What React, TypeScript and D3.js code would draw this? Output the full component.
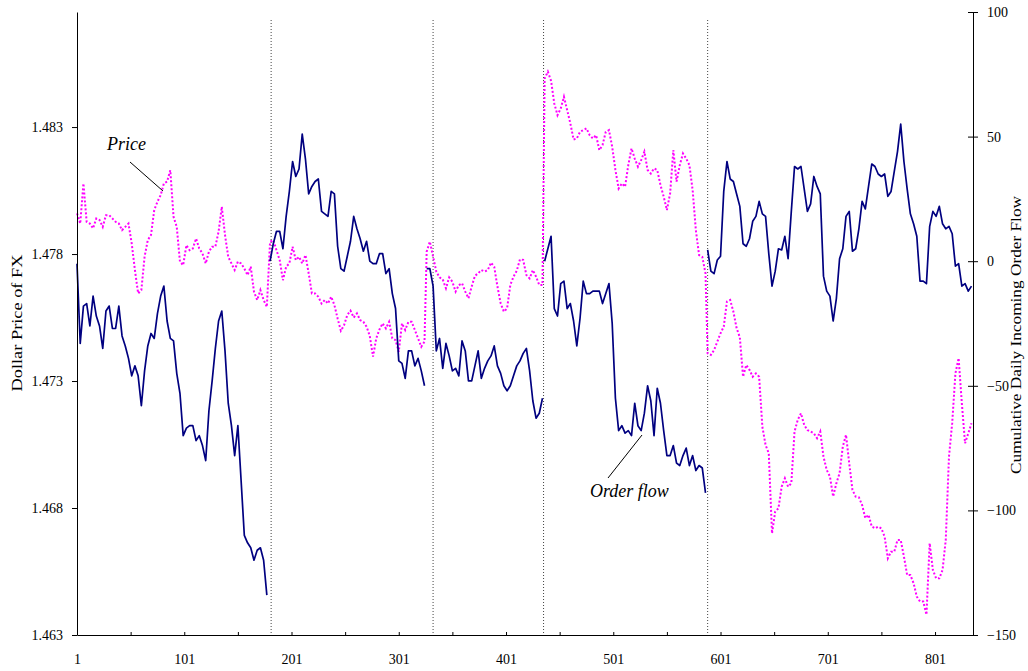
import React, { useEffect, useRef } from 'react'
import * as d3 from 'd3'

const W = 1028
const H = 671
const STEP = 3 // days between stored readings

// first day of each trading period (order flow restarts at zero)
const periodStart = [1, 181, 327, 437, 589]
// dotted period dividers
const breakDays = [182, 333, 436, 589]

// cumulative daily incoming order flow, one array per period
const flow1 = [-1, -33, -18, -17, -26, -14, -22, -26, -35, -20,
  -18, -27, -27, -18, -30, -34, -39, -46, -42, -46,
  -58, -44, -34, -29, -31, -21, -14, -10, -24, -31,
  -32, -45, -53, -70, -67, -66, -66, -72, -70, -74,
  -80, -60, -48, -35, -24, -20, -36, -57, -66, -78,
  -66, -88, -110, -113, -115, -120, -116, -115, -120, -134]
const flow2 = [0, 7, 12, 12, 5, 18, 28, 40, 34, 37,
  51, 41, 27, 30, 32, 33, 20, 19, 18, 28,
  27, 6, -3, -4, 2, 8, 18, 13, 9, 4,
  8, 0, -1, -1, 3, 3, -5, -3, -13, -19,
  -40, -41, -47, -36, -36, -42, -39, -44, -50]
const flow3 = [-3, -3, -10, -36, -31, -43, -33, -38, -44, -43,
  -46, -32, -36, -48, -48, -42, -36, -47, -43, -40,
  -38, -34, -42, -45, -50, -52, -50, -46, -42, -40,
  -37, -35, -44, -56, -63, -61, -55]
const flow4 = [0, 5, 10, -19, -22, -9, -8, -19, -17, -24,
  -34, -23, -8, -13, -13, -12, -12, -12, -17, -13,
  -9, -25, -55, -68, -66, -69, -68, -70, -57, -66,
  -68, -61, -50, -56, -70, -51, -57, -68, -78, -78,
  -74, -81, -82, -78, -75, -82, -78, -84, -82, -83, -93]
const flow5 = [4.5, -4, -5, 0.5, 2, 28, 40, 33, 32, 27,
  22, 7, 6, 9, 16, 18, 24, 19, 18, 3,
  -10, -4, 5, 4.5, 10, 1, 20, 38, 37, 38,
  29, 20, 23, 34, 30, 27, -6, -12, -14, -24,
  -15, 1, 5, 18, 20, 4, 5, 13, 24, 21,
  30, 39, 38, 35, 34, 35, 26, 28, 36, 44,
  55, 40, 29, 19, 15, 10, -8, -8, -9, 14,
  20, 18, 22, 15, 13, 14, 11, -2, -1, -10,
  -9, -12, -10]

// dollar price of FX, same periods
const price1 = [1.47960, 1.47920, 1.48078, 1.47927, 1.47920, 1.47901, 1.47940, 1.47934, 1.47907, 1.47953,
  1.47953, 1.47940, 1.47927, 1.47920, 1.47894, 1.47907, 1.47920, 1.47842, 1.47737, 1.47645,
  1.47658, 1.47789, 1.47855, 1.47875, 1.47973, 1.48006, 1.48032, 1.48078, 1.48085, 1.48130,
  1.47947, 1.47907, 1.47770, 1.47756, 1.47835, 1.47815, 1.47822, 1.47861, 1.47822, 1.47802,
  1.47763, 1.47809, 1.47829, 1.47829, 1.47888, 1.47986, 1.47875, 1.47789, 1.47763, 1.47737,
  1.47770, 1.47763, 1.47743, 1.47717, 1.47750, 1.47652, 1.47619, 1.47658, 1.47619, 1.47592]
const price2 = [1.47848, 1.47855, 1.47815, 1.47776, 1.47697, 1.47750, 1.47763, 1.47829, 1.47776, 1.47789,
  1.47763, 1.47796, 1.47724, 1.47645, 1.47645, 1.47632, 1.47605, 1.47619, 1.47605, 1.47632,
  1.47599, 1.47546, 1.47498, 1.47520, 1.47560, 1.47577, 1.47550, 1.47566, 1.47540, 1.47533,
  1.47514, 1.47477, 1.47396, 1.47468, 1.47503, 1.47527, 1.47507, 1.47533, 1.47468, 1.47461,
  1.47415, 1.47527, 1.47501, 1.47533, 1.47533, 1.47501, 1.47468, 1.47435, 1.47455]
const price3 = [1.47809, 1.47849, 1.47790, 1.47731, 1.47708, 1.47700, 1.47665, 1.47708, 1.47691, 1.47652,
  1.47678, 1.47685, 1.47652, 1.47626, 1.47672, 1.47714, 1.47724, 1.47737, 1.47731, 1.47737,
  1.47766, 1.47750, 1.47672, 1.47606, 1.47573, 1.47586, 1.47678, 1.47711, 1.47734, 1.47779,
  1.47777, 1.47717, 1.47704, 1.47737, 1.47711, 1.47678, 1.47678]
const price4 = [1.48491, 1.48518, 1.48482, 1.48393, 1.48347, 1.48373, 1.48419, 1.48367, 1.48314, 1.48251,
  1.48255, 1.48281, 1.48288, 1.48295, 1.48268, 1.48255, 1.48268, 1.48209, 1.48229, 1.48281,
  1.48288, 1.48222, 1.48131, 1.48058, 1.48078, 1.48065, 1.48150, 1.48216, 1.48176, 1.48144,
  1.48170, 1.48203, 1.48131, 1.48117, 1.48137, 1.48131, 1.48072, 1.48026, 1.47973, 1.48039,
  1.48209, 1.48085, 1.48150, 1.48196, 1.48176, 1.48150, 1.48052, 1.47894, 1.47796, 1.47789, 1.47724]
const price5 = [1.47409, 1.47403, 1.47422, 1.47455, 1.47488, 1.47514, 1.47613, 1.47619, 1.47573, 1.47508,
  1.47472, 1.47317, 1.47363, 1.47344, 1.47317, 1.47330, 1.47317, 1.47120, 1.47048, 1.47015,
  1.46700, 1.46786, 1.46799, 1.46884, 1.46917, 1.46884, 1.46897, 1.47101, 1.47147, 1.47173,
  1.47127, 1.47107, 1.47101, 1.47094, 1.47075, 1.47101, 1.47002, 1.46950, 1.46924, 1.46845,
  1.46897, 1.46937, 1.47042, 1.47088, 1.46976, 1.46871, 1.46845, 1.46842, 1.46812, 1.46760,
  1.46773, 1.46727, 1.46720, 1.46727, 1.46720, 1.46687, 1.46602, 1.46628, 1.46628, 1.46674,
  1.46674, 1.46609, 1.46536, 1.46536, 1.46504, 1.46451, 1.46432, 1.46432, 1.46380, 1.46661,
  1.46556, 1.46523, 1.46523, 1.46556, 1.46674, 1.47002, 1.47134, 1.47330, 1.47390, 1.47212,
  1.47055, 1.47094, 1.47134]

const flows = [flow1, flow2, flow3, flow4, flow5]
const prices = [price1, price2, price3, price4, price5]

const priceTicks = [1.463, 1.468, 1.473, 1.478, 1.483]
const flowTicks = [-150, -100, -50, 0, 50, 100]
const dayTicks = [1, 51, 101, 151, 201, 251, 301, 351, 401, 451, 501, 551, 601, 651, 701, 751, 801]
const dayLabels = [1, 101, 201, 301, 401, 501, 601, 701, 801]

const FONT = '"Liberation Serif", "Times New Roman", serif'
const NAVY = '#000080'
const MAGENTA = '#ff00ff'

export default function App() {
  const ref = useRef<SVGSVGElement>(null)

  useEffect(() => {
    const svg = d3.select(ref.current)
    svg.selectAll('*').remove()

    const left = 77, right = 973, top = 12, bottom = 635

    const x = d3.scaleLinear().domain([1, 836.4]).range([left, right])
    const yPrice = d3.scaleLinear().domain([1.463, 1.48753]).range([bottom, top])
    const yFlow = d3.scaleLinear().domain([-150, 100]).range([bottom, top])

    // period dividers
    svg.append('g')
      .selectAll('line')
      .data(breakDays)
      .join('line')
      .attr('x1', d => x(d)).attr('x2', d => x(d))
      .attr('y1', 20).attr('y2', bottom)
      .attr('stroke', '#444')
      .attr('stroke-width', 1)
      .attr('stroke-dasharray', '1,2')

    // price: one continuous dotted line across all periods
    const pricePts: [number, number][] = []
    prices.forEach((arr, k) => arr.forEach((v, i) => pricePts.push([periodStart[k] + i * STEP, v])))
    const priceLine = d3.line<[number, number]>()
      .x(d => x(d[0]))
      .y(d => yPrice(d[1]))
    svg.append('path')
      .datum(pricePts)
      .attr('d', priceLine)
      .attr('fill', 'none')
      .attr('stroke', MAGENTA)
      .attr('stroke-width', 2)
      .attr('stroke-dasharray', '2,2')

    // order flow: a separate solid line per period
    flows.forEach((arr, k) => {
      const line = d3.line<number>()
        .x((d, i) => x(periodStart[k] + i * STEP))
        .y(d => yFlow(d))
      svg.append('path')
        .datum(arr)
        .attr('d', line)
        .attr('fill', 'none')
        .attr('stroke', NAVY)
        .attr('stroke-width', 1.7)
        .attr('stroke-linejoin', 'round')
    })

    // axes
    const gx = svg.append('g')
      .attr('transform', `translate(0,${bottom})`)
      .call(d3.axisBottom(x)
        .tickValues(dayTicks)
        .tickSizeInner(-3)
        .tickSizeOuter(0)
        .tickPadding(19)
        .tickFormat(d => (dayLabels.includes(+d) ? String(d) : '')))
    const gl = svg.append('g')
      .attr('transform', `translate(${left},0)`)
      .call(d3.axisLeft(yPrice)
        .tickValues(priceTicks)
        .tickSize(5)
        .tickSizeOuter(0)
        .tickPadding(9)
        .tickFormat(d3.format('.3f')))
    const gr = svg.append('g')
      .attr('transform', `translate(${right},0)`)
      .call(d3.axisRight(yFlow)
        .tickValues(flowTicks)
        .tickSizeInner(5)
        .tickSizeOuter(0)
        .tickPadding(9)
        .tickFormat(d3.format('d')))
    gr.selectAll('.tick line').attr('x1', -5)

    ;[gx, gl, gr].forEach(g => {
      g.attr('font-family', FONT).attr('font-size', 14)
      g.selectAll('text').attr('fill', '#000')
      g.selectAll('line, path').attr('stroke', '#000')
    })

    // axis titles
    svg.append('text')
      .attr('transform', 'translate(22,323) rotate(-90)')
      .attr('text-anchor', 'middle')
      .attr('font-family', FONT)
      .attr('font-size', 15)
      .attr('textLength', 137)
      .attr('lengthAdjust', 'spacingAndGlyphs')
      .text('Dollar Price of FX')
    svg.append('text')
      .attr('transform', 'translate(1021,335) rotate(-90)')
      .attr('text-anchor', 'middle')
      .attr('font-family', FONT)
      .attr('font-size', 15)
      .attr('textLength', 278)
      .attr('lengthAdjust', 'spacingAndGlyphs')
      .text('Cumulative Daily Incoming Order Flow')

    // annotations
    const notes = [
      { text: 'Price', tx: 107, ty: 150, x1: 130, y1: 162, x2: 163, y2: 191 },
      { text: 'Order flow', tx: 590, ty: 497, x1: 608, y1: 478, x2: 642, y2: 435 },
    ]
    notes.forEach(n => {
      svg.append('text')
        .attr('x', n.tx).attr('y', n.ty)
        .attr('font-family', FONT)
        .attr('font-style', 'italic')
        .attr('font-size', 18)
        .text(n.text)
      svg.append('line')
        .attr('x1', n.x1).attr('y1', n.y1)
        .attr('x2', n.x2).attr('y2', n.y2)
        .attr('stroke', '#000')
        .attr('stroke-width', 1)
    })
  }, [])

  return (
    <svg
      ref={ref}
      width={W}
      height={H}
      style={{ position: 'absolute', left: 0, top: 0, background: '#fff' }}
    />
  )
}
